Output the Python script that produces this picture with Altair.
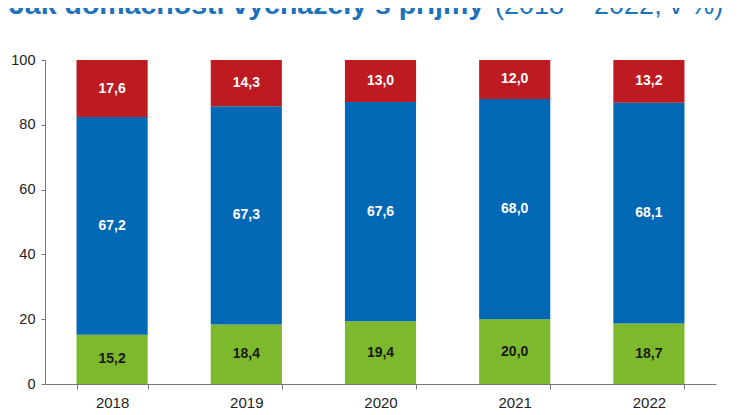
import altair as alt
import pandas as pd

years = ["2018", "2019", "2020", "2021", "2022"]
categories = ["snadno", "s menšími obtížemi", "s obtížemi"]
green_vals = [15.2, 18.4, 19.4, 20.0, 18.7]
blue_vals = [67.2, 67.3, 67.6, 68.0, 68.1]
red_vals = [17.6, 14.3, 13.0, 12.0, 13.2]
bar_colors = ["#7DB92C", "#0068B4", "#BE1A22"]
label_colors = ["#1a1a1a", "#ffffff", "#ffffff"]

title_bold = "Jak domácnosti vycházely s příjmy"
title_normal = "(2018 – 2022, v %)"

rows = []
for i, y in enumerate(years):
    for k, (cat, vals) in enumerate(zip(categories, [green_vals, blue_vals, red_vals])):
        rows.append({"year": y, "cat": cat, "order": k, "value": vals[i],
                     "tc": label_colors[k]})
df = pd.DataFrame(rows)

base = alt.Chart(df).transform_stack(
    stack="value", groupby=["year"], as_=["y0", "y1"],
    sort=[alt.SortField("order", order="ascending")]
).transform_calculate(
    mid="(datum.y0 + datum.y1) / 2",
    lbl="replace(format(datum.value, '.1f'), '.', ',')"
)

x_enc = alt.X("year:N", title=None, sort=years,
              scale=alt.Scale(paddingInner=0.47, paddingOuter=0.235),
              axis=alt.Axis(labelAngle=0, tickBand="extent", tickSize=5,
                            labelPadding=6, labelFontSize=15,
                            labelColor="#222222", domainColor="#777777",
                            tickColor="#777777", labelFont="Liberation Sans"))

bars = base.mark_bar().encode(
    x=x_enc,
    y=alt.Y("y0:Q", title=None, scale=alt.Scale(domain=[0, 100], nice=False),
            axis=alt.Axis(values=[0, 20, 40, 60, 80, 100], grid=False,
                          tickSize=4, labelPadding=6, labelFontSize=14.5,
                          labelColor="#222222", domainColor="#777777",
                          tickColor="#777777", labelFont="Liberation Sans")),
    y2="y1:Q",
    color=alt.Color("cat:N", scale=alt.Scale(domain=categories, range=bar_colors),
                    legend=None),
)

labels = base.mark_text(font="Liberation Sans", fontWeight="bold", fontSize=14,
                        baseline="middle").encode(
    x=alt.X("year:N", sort=years),
    y=alt.Y("mid:Q"),
    text="lbl:N",
    color=alt.Color("tc:N", scale=None),
)

title_df = pd.DataFrame({"t1": [title_bold], "t2": [title_normal]})
t1 = alt.Chart(title_df).mark_text(
    font="Liberation Sans", fontWeight="bold", fontSize=28.5, align="left",
    baseline="alphabetic", color="#1C72BC"
).encode(x=alt.value(-36), y=alt.value(-46), text="t1:N")
t2 = alt.Chart(title_df).mark_text(
    font="Liberation Sans", fontWeight="normal", fontSize=27, align="left",
    baseline="alphabetic", color="#1C72BC"
).encode(x=alt.value(450), y=alt.value(-46), text="t2:N")

chart = alt.layer(bars, labels, t1, t2).properties(
    width=671, height=324,
    autosize=alt.AutoSizeParams(type="none"),
    padding={"left": 37, "top": 52, "right": 12, "bottom": 26},
).configure_view(stroke=None).configure_axis(labelFont="Liberation Sans")

chart.save("out.html", embed_options={"renderer": "svg", "actions": False})
